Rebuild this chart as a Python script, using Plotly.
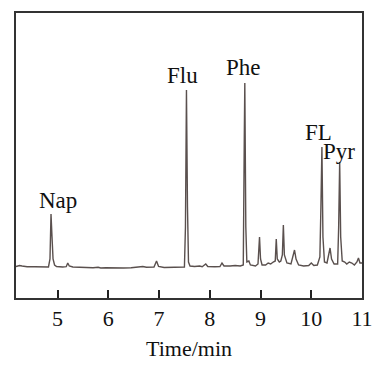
import plotly.graph_objects as go

time_min = [4.18, 4.25, 4.30, 4.40, 4.55, 4.70, 4.82, 4.85, 4.87, 4.89, 4.91, 4.94, 4.98,
            5.10, 5.17, 5.20, 5.23, 5.30, 5.50, 5.70, 5.80, 5.85, 5.95, 6.10, 6.30, 6.45,
            6.60, 6.68, 6.75, 6.90, 6.95, 6.99, 7.10, 7.30, 7.45, 7.50, 7.52, 7.54, 7.56,
            7.58, 7.61, 7.70, 7.80, 7.85, 7.92, 7.96, 8.10, 8.20, 8.24, 8.28, 8.40, 8.50,
            8.60, 8.66, 8.68, 8.69, 8.71, 8.73, 8.77, 8.80, 8.90, 8.95, 8.98, 9.00, 9.03,
            9.10, 9.15, 9.20, 9.25, 9.29, 9.31, 9.33, 9.37, 9.40, 9.43, 9.45, 9.47, 9.52,
            9.60, 9.65, 9.67, 9.70, 9.75, 9.85, 9.95, 10.00, 10.05, 10.12, 10.17, 10.19,
            10.21, 10.23, 10.26, 10.31, 10.35, 10.37, 10.40, 10.45, 10.52, 10.54, 10.56,
            10.58, 10.61, 10.66, 10.70, 10.75, 10.80, 10.85, 10.90, 10.93, 10.96, 11.00]
signal = [0.5, 1.5, 1.0, 0.3, 0.2, 0.0, 0.0, 8, 53, 30, 8, 2, 0.5,
          0, 0.3, 4, 1, 0, -0.5, -0.8, -0.3, -1, -0.8, -1.2, -1.0, -0.8,
          -0.2, 0.5, -0.3, 0, 6, 0.5, -0.5, -0.3, -0.5, 0, 40, 177, 60,
          5, 1, 0.5, 1, 0.3, 3, 0.5, 0.3, 0.5, 4, 1, 1, 1.5,
          1, 2, 130, 184, 40, 5, 6, 2, 1, 3, 30, 8, 2,
          2, 4, 3, 5, 6, 28, 8, 5, 6, 12, 42, 12, 4,
          3, 12, 17, 8, 2, 1, 1.5, 4, 1.5, 2, 10, 60,
          120, 30, 5, 4, 15, 19, 8, 3, 3, 40, 105,
          30, 6, 5, 3, 5, 4, 2, 5, 9, 4, 4]

peak_names = ["Nap", "Flu", "Phe", "FL", "Pyr"]
label_x = [5.01, 7.47, 8.66, 10.135, 10.55]
label_y = [67, 192, 200, 135, 116]

tick_vals = [5, 6, 7, 8, 9, 10, 11]
tick_text = ["5", "6", "7", "8", "9", "10", "11"]

SERIF = "Times New Roman"

fig = go.Figure()
fig.add_trace(go.Scatter(x=time_min, y=signal, mode="lines",
                         line=dict(color="#5a504e", width=1.4), showlegend=False))

for name, lx, ly in zip(peak_names, label_x, label_y):
    fig.add_annotation(x=lx, y=ly, text=name, showarrow=False, xanchor="center",
                       yanchor="middle",
                       font=dict(family=SERIF, size=23, color="#111"))

fig.update_layout(
    width=389, height=382,
    margin=dict(l=16, r=27, t=13, b=84),
    paper_bgcolor="white", plot_bgcolor="white",
    font=dict(family=SERIF, color="#111"),
    xaxis=dict(range=[4.18, 11], tickvals=tick_vals, ticktext=tick_text,
               ticks="inside", ticklen=8, tickwidth=1.5, tickcolor="#222",
               showgrid=False, zeroline=False, showline=True, linewidth=2,
               linecolor="#333", mirror=True,
               tickfont=dict(family=SERIF, size=22, color="#111"),
               title=dict(text="Time/min", standoff=10,
                          font=dict(family=SERIF, size=22, color="#111"))),
    yaxis=dict(range=[-31, 254], showticklabels=False, ticks="", showgrid=False,
               zeroline=False, showline=True, linewidth=2, linecolor="#333", mirror=True),
)

fig.write_html("out.html")
